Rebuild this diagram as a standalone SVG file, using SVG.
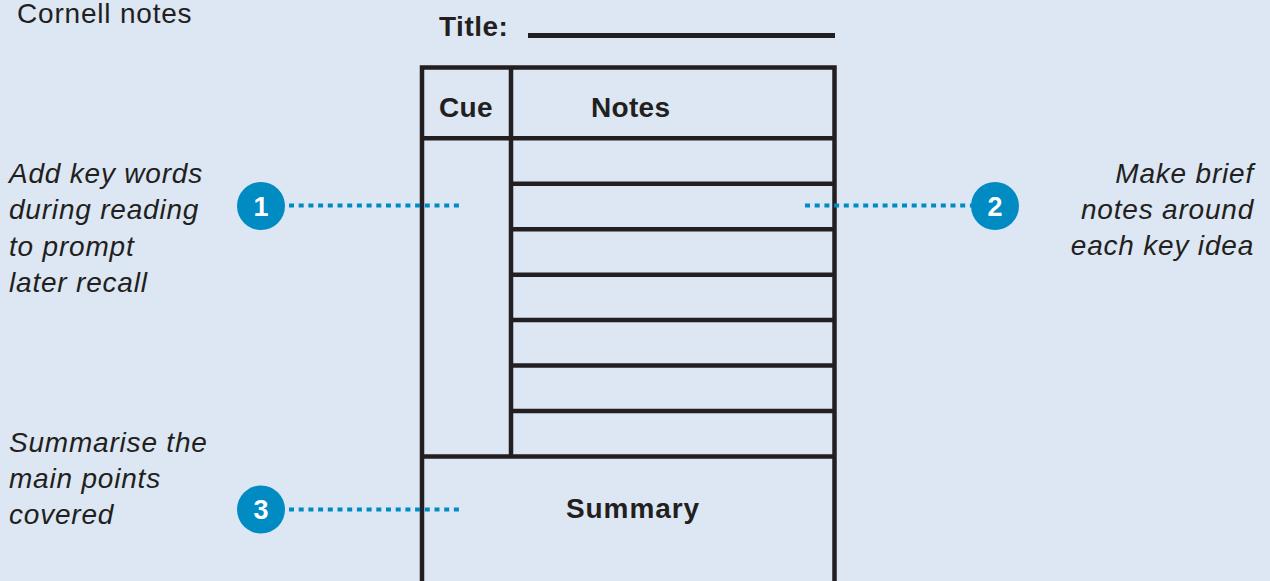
<svg xmlns="http://www.w3.org/2000/svg" width="1270" height="581" viewBox="0 0 1270 581">
<style>
.bg{fill:#dce7f3}
.ln{stroke:#231f20;stroke-width:4.5;fill:none}
.t{font-family:"Liberation Sans",Arial,sans-serif;font-size:28px;fill:#231f20;letter-spacing:0.8px}
.it{font-style:italic}
.b{font-weight:bold}
.dot{stroke:#008bc3;stroke-width:4;stroke-dasharray:5 4.7;fill:none}
.c{fill:#008bc3}
.n{font-family:"Liberation Sans",Arial,sans-serif;font-size:27px;font-weight:bold;fill:#ffffff;text-anchor:middle}
</style>
<rect class="bg" x="0" y="0" width="1270" height="581"/>
<g id="heading">
<text class="t" x="17" y="22.5">Cornell notes</text>
</g>
<g id="title">
<text class="t b" x="439" y="36" style="letter-spacing:0.5px">Title:</text>
<line class="ln" x1="528" y1="35.5" x2="835" y2="35.5" style="stroke-width:5"/>
</g>
<g id="sheet">
<polyline class="ln" points="422,590 422,67.5 834.5,67.5 834.5,590"/>
<line class="ln" x1="511" y1="67.5" x2="511" y2="456.5"/>
<line class="ln" x1="422" y1="138.3" x2="834.5" y2="138.3"/>
<line class="ln" x1="511" y1="183.8" x2="834.5" y2="183.8"/>
<line class="ln" x1="511" y1="229.2" x2="834.5" y2="229.2"/>
<line class="ln" x1="511" y1="274.7" x2="834.5" y2="274.7"/>
<line class="ln" x1="511" y1="320.1" x2="834.5" y2="320.1"/>
<line class="ln" x1="511" y1="365.6" x2="834.5" y2="365.6"/>
<line class="ln" x1="511" y1="411" x2="834.5" y2="411"/>
<line class="ln" x1="422" y1="456.5" x2="834.5" y2="456.5"/>
<text class="t b" x="439" y="117" style="letter-spacing:0.3px">Cue</text>
<text class="t b" x="591" y="117" style="letter-spacing:0.3px">Notes</text>
<text class="t b" x="633" y="518" text-anchor="middle" style="letter-spacing:0.9px">Summary</text>
</g>
<g id="note1">
<circle class="c" cx="261" cy="206" r="24"/>
<text class="n" x="261" y="215.5">1</text>
<text class="t it" x="9" y="183">Add key words</text>
<text class="t it" x="9" y="219">during reading</text>
<text class="t it" x="9" y="256">to prompt</text>
<text class="t it" x="9" y="292">later recall</text>
</g>
<g id="note2">
<circle class="c" cx="995" cy="206" r="24"/>
<text class="n" x="995" y="215.5">2</text>
<text class="t it" x="1254" y="183" text-anchor="end">Make brief</text>
<text class="t it" x="1254" y="219" text-anchor="end">notes around</text>
<text class="t it" x="1254" y="255" text-anchor="end">each key idea</text>
</g>
<g id="note3">
<circle class="c" cx="261" cy="509.5" r="24"/>
<text class="n" x="261" y="519">3</text>
<text class="t it" x="9" y="452">Summarise the</text>
<text class="t it" x="9" y="488">main points</text>
<text class="t it" x="9" y="524">covered</text>
</g>
<g id="connectors">
<line class="dot" x1="289" y1="205.5" x2="459" y2="205.5"/>
<line class="dot" x1="805" y1="205.5" x2="972" y2="205.5"/>
<line class="dot" x1="289" y1="509.5" x2="459" y2="509.5"/>
</g>
</svg>
